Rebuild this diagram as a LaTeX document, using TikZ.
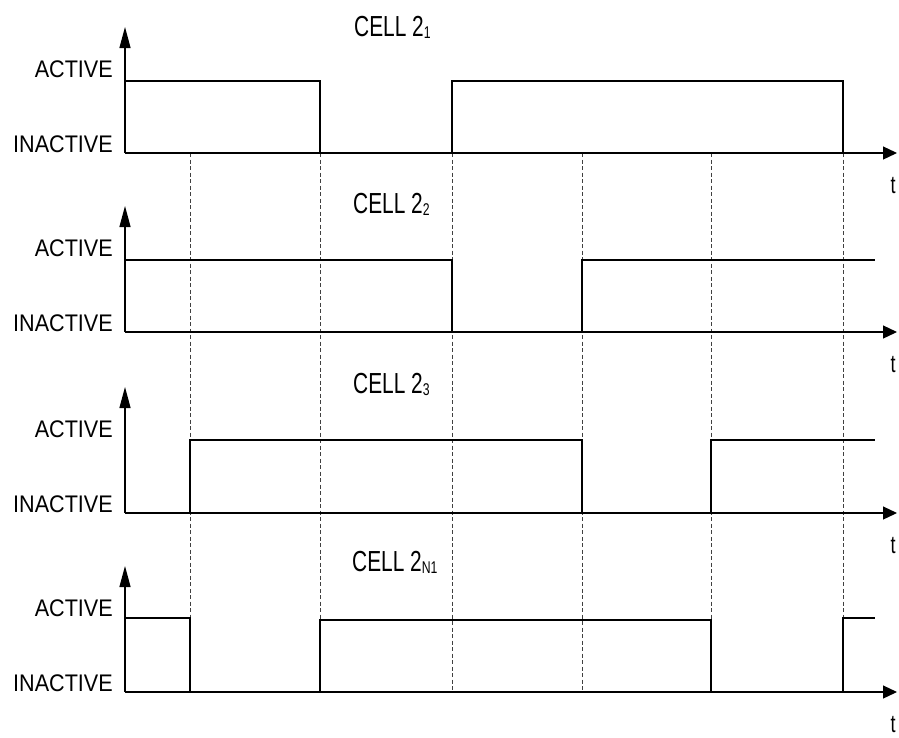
\documentclass[tikz,border=0pt]{standalone}
\usepackage{fontspec}
\setmainfont{Liberation Sans}
\newfontfamily\cellfont[FakeStretch=0.72]{Liberation Sans}
\newfontfamily\lblfont[FakeStretch=0.9]{Liberation Sans}
\usetikzlibrary{arrows.meta}
\tikzset{
  axisline/.style={line width=1.2pt, black},
  yarrow/.style={axisline, -{Triangle[length=21pt,width=11pt]}},
  xarrow/.style={axisline, -{Triangle[length=14pt,width=13pt]}},
  wave/.style={line width=1.3pt, black, line join=miter},
  grid/.style={line width=0.8pt, black!75, dash pattern=on 4pt off 2.5pt},
  lbl/.style={font=\lblfont\fontsize{24}{24}\selectfont, inner sep=0pt, anchor=base east},
  celllbl/.style={font=\cellfont\fontsize{29}{29}\selectfont, inner sep=0pt, anchor=base west},
  tlbl/.style={font=\cellfont\fontsize{25}{25}\selectfont, inner sep=0pt, anchor=base}
}
\newcommand{\subsc}[1]{\raisebox{-2pt}{\fontsize{17}{17}\selectfont #1}}
\begin{document}
\begin{tikzpicture}[x=1pt,y=-1pt]
\useasboundingbox (0,0) rectangle (899,737);
% vertical dashed grid
\foreach \gx [count=\i] in {190,320,452,582,711,843} {
  \coordinate (gt\i) at (\gx,153);
  \coordinate (gb\i) at (\gx,692);
  \draw[grid] (gt\i) -- (gb\i);
}
% axes and labels
\foreach \a/\n in {153/1,332/2,513/3,692/4} {
  \coordinate (o\n) at (125,\a);
  \coordinate (ytop\n) at (125,\a-126);
  \coordinate (xend\n) at (897,\a);
  \draw[yarrow] (o\n) -- (ytop\n);
  \draw[xarrow] (o\n) -- (xend\n);
  \node[lbl] (act\n) at (113,\a-76) {ACTIVE};
  \node[lbl] (inact\n) at (113,\a-1) {INACTIVE};
  \node[tlbl] (t\n) at (893,\a+40) {t};
}
% cell labels
\node[celllbl] (c1) at (354,36) {CELL 2\subsc{1}};
\node[celllbl] (c2) at (353,213) {CELL 2\subsc{2}};
\node[celllbl] (c3) at (353,393) {CELL 2\subsc{3}};
\node[celllbl] (c4) at (352,571) {CELL 2\subsc{N1}};
% waveforms
\draw[wave] (125,81) -- (320,81) -- (320,153) -- (452,153) -- (452,81) -- (843,81) -- (843,153);
\draw[wave] (125,260) -- (452,260) -- (452,332) -- (582,332) -- (582,260) -- (875,260);
\draw[wave] (125,513) -- (190,513) -- (190,440) -- (582,440) -- (582,513) -- (711,513) -- (711,440) -- (875,440);
\draw[wave] (125,618) -- (190,618) -- (190,692) -- (320,692) -- (320,620) -- (711,620) -- (711,692) -- (843,692) -- (843,618) -- (875,618);
\end{tikzpicture}
\end{document}
